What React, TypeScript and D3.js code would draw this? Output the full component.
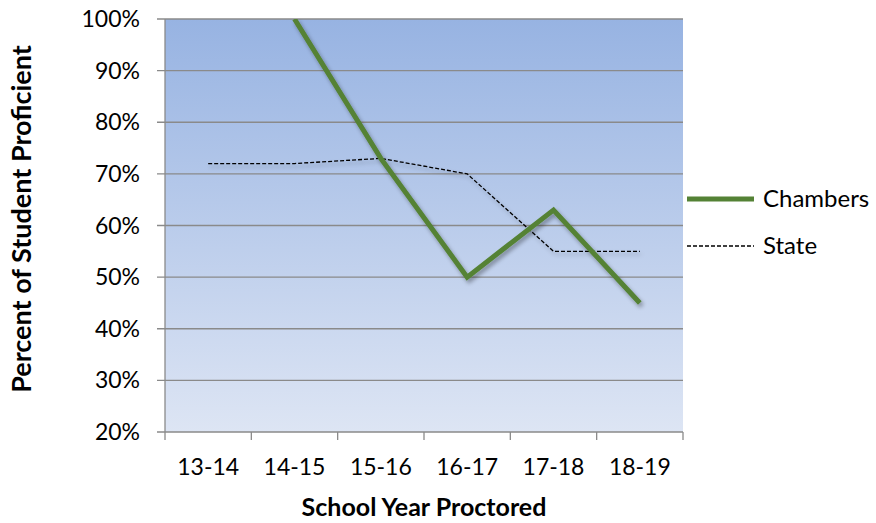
import React from "react";
import * as d3 from "d3";

const categories = ["13-14", "14-15", "15-16", "16-17", "17-18", "18-19"];
const chambers: (number | null)[] = [null, 100, 73, 50, 63, 45];
const state: (number | null)[] = [72, 72, 73, 70, 55, 55];
const yTicks = [20, 30, 40, 50, 60, 70, 80, 90, 100];

const W = 876, H = 523;
const m = { left: 165, right: 683, top: 19, bottom: 432 };
const FONT = "Lato, 'Open Sans', sans-serif";

export default function App() {
  const x = d3.scaleBand<string>().domain(categories).range([m.left, m.right]);
  const y = d3.scaleLinear().domain([20, 100]).range([m.bottom, m.top]);
  const cx = (c: string) => (x(c) as number) + x.bandwidth() / 2;
  const line = d3
    .line<number | null>()
    .defined((d) => d != null)
    .x((_, i) => cx(categories[i]))
    .y((d) => y(d as number));

  return (
    <svg width={W} height={H} style={{ position: "absolute", left: 0, top: 0 }}>
      <defs>
        <linearGradient id="bg" x1="0" y1="0" x2="0" y2="1">
          <stop offset="0" stopColor="#97b3e2" />
          <stop offset="1" stopColor="#dde5f4" />
        </linearGradient>
        <filter id="sh" x="-10%" y="-50%" width="120%" height="200%">
          <feGaussianBlur in="SourceAlpha" stdDeviation="2" />
          <feOffset dx="2" dy="3" result="b" />
          <feComponentTransfer><feFuncA type="linear" slope="0.35" /></feComponentTransfer>
          <feMerge><feMergeNode /><feMergeNode in="SourceGraphic" /></feMerge>
        </filter>
        <clipPath id="clip"><rect x={m.left} y={m.top} width={m.right - m.left} height={m.bottom - m.top} /></clipPath>
      </defs>
      <rect x={m.left} y={m.top} width={m.right - m.left} height={m.bottom - m.top} fill="url(#bg)" />
      {yTicks.map((t) => (
        <g key={t}>
          <line x1={m.left - 8} x2={m.right} y1={y(t)} y2={y(t)} stroke="#8a8a8a" strokeWidth={1.3} />
          <text x={140} y={y(t)} dy="0.35em" textAnchor="end" fontFamily={FONT} fontSize={23} fill="#000">{t}%</text>
        </g>
      ))}
      <line x1={m.left} x2={m.left} y1={m.top} y2={m.bottom} stroke="#8a8a8a" strokeWidth={1.3} />
      {d3.range(categories.length + 1).map((i) => {
        const xx = m.left + i * x.bandwidth();
        return <line key={i} x1={xx} x2={xx} y1={m.bottom} y2={m.bottom + 8} stroke="#8a8a8a" strokeWidth={1.3} />;
      })}
      {categories.map((c) => (
        <text key={c} x={cx(c)} y={467} dy="0.35em" textAnchor="middle" fontFamily={FONT} fontSize={23} fill="#000">{c}</text>
      ))}
      <g clipPath="url(#clip)">
        <path d={line(state) || ""} fill="none" stroke="#000" strokeWidth={1.3} strokeDasharray="4,2" filter="url(#sh)" />
        <path d={line(chambers) || ""} fill="none" stroke="#548235" strokeWidth={5} filter="url(#sh)" />
      </g>
      <line x1={687} x2={754} y1={199} y2={199} stroke="#548235" strokeWidth={5} />
      <text x={763} y={199} dy="0.35em" fontFamily={FONT} fontSize={24} fill="#000">Chambers</text>
      <line x1={687} x2={754} y1={246} y2={246} stroke="#000" strokeWidth={1.3} strokeDasharray="4,2" />
      <text x={763} y={246} dy="0.35em" fontFamily={FONT} fontSize={24} fill="#000">State</text>
      <text x={424} y={507} dy="0.35em" textAnchor="middle" fontFamily={FONT} fontSize={25} fontWeight="bold" fill="#000">School Year Proctored</text>
      <text transform={`translate(22,219) rotate(-90)`} dy="0.35em" textAnchor="middle" fontFamily={FONT} fontSize={27} fontWeight="bold" fill="#000">Percent of Student Proficient</text>
    </svg>
  );
}
